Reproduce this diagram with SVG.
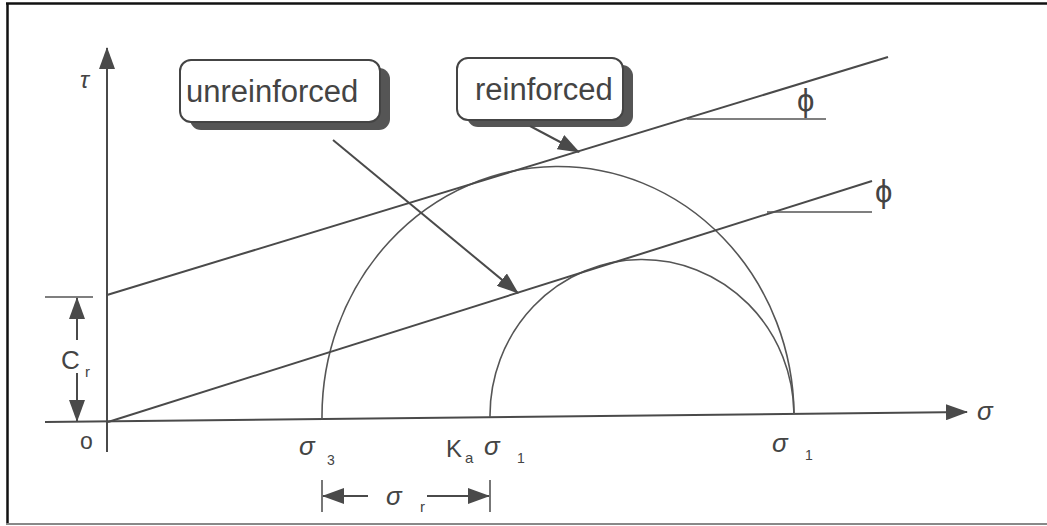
<svg xmlns="http://www.w3.org/2000/svg" width="1047" height="526" viewBox="0 0 1047 526">
<defs>
<marker id="ah" markerUnits="userSpaceOnUse" markerWidth="22" markerHeight="16" refX="21" refY="8" orient="auto">
<path d="M0,0 L22,8 L0,16 z" fill="#4a4a4a"/>
</marker>
<style>
.ln{stroke:#4a4a4a;stroke-width:2;fill:none}
.th{stroke:#555;stroke-width:1.6;fill:none}
.t{font-family:"Liberation Sans",Arial,sans-serif;fill:#444}
.box{fill:#fff;stroke:#444;stroke-width:2}
.sh{fill:#555}
</style>
</defs>
<rect x="0" y="0" width="1047" height="526" fill="#fff"/>
<g id="frame">
<line x1="6" y1="3.5" x2="1047" y2="3.5" stroke="#111" stroke-width="2.5"/>
<line x1="7.5" y1="3" x2="7.5" y2="524" stroke="#111" stroke-width="2.5"/>
<line x1="6" y1="524" x2="1047" y2="524" stroke="#888" stroke-width="2"/>
</g>
<g id="axes">
<line class="ln" x1="107" y1="452" x2="107" y2="48" marker-end="url(#ah)"/>
<line class="ln" x1="45" y1="422" x2="967" y2="412" marker-end="url(#ah)"/>
<text class="t" x="80" y="88" font-size="24" font-style="italic">τ</text>
<text class="t" x="977" y="420" font-size="26" font-style="italic">σ</text>
<text class="t" x="80" y="449" font-size="23">o</text>
</g>
<g id="circles">
<path class="th" d="M322,419 A236,250 0 0 1 794,414"/>
<path class="th" d="M490,417 A152,156 0 0 1 794,414"/>
</g>
<g id="envelopes">
<line class="ln" x1="107" y1="295" x2="888" y2="57"/>
<line class="ln" x1="108" y1="422" x2="872" y2="181"/>
<line class="th" x1="687" y1="119" x2="826" y2="119"/>
<line class="th" x1="767" y1="212" x2="872" y2="212"/>
<text class="t" x="797" y="111" font-size="31">ϕ</text>
<text class="t" x="875" y="202" font-size="31">ϕ</text>
</g>
<g id="cr">
<line class="th" x1="45" y1="297" x2="93" y2="297"/>
<line class="ln" x1="77" y1="340" x2="77" y2="298" marker-end="url(#ah)"/>
<line class="ln" x1="77" y1="373" x2="77" y2="421" marker-end="url(#ah)"/>
<text class="t" x="61" y="369" font-size="26">C</text>
<text class="t" x="85" y="377" font-size="15">r</text>
</g>
<g id="labels">
<text class="t" x="299" y="455" font-size="26" font-style="italic">σ</text>
<text class="t" x="327" y="465" font-size="14">3</text>
<text class="t" x="446" y="457" font-size="24">K</text>
<text class="t" x="465" y="463" font-size="15">a</text>
<text class="t" x="484" y="455" font-size="26" font-style="italic">σ</text>
<text class="t" x="517" y="463" font-size="14">1</text>
<text class="t" x="772" y="452" font-size="26" font-style="italic">σ</text>
<text class="t" x="805" y="460" font-size="14">1</text>
</g>
<g id="sigma-r">
<line class="th" x1="322" y1="480" x2="322" y2="512"/>
<line class="th" x1="490" y1="480" x2="490" y2="512"/>
<line class="ln" x1="368" y1="496" x2="323" y2="496" marker-end="url(#ah)"/>
<line class="ln" x1="427" y1="496" x2="489" y2="496" marker-end="url(#ah)"/>
<text class="t" x="386" y="505" font-size="26" font-style="italic">σ</text>
<text class="t" x="420" y="512" font-size="15">r</text>
</g>
<g id="unreinforced">
<rect class="sh" x="190" y="68" width="200" height="62" rx="11"/>
<rect class="box" x="180" y="60" width="200" height="62" rx="11"/>
<text class="t" x="186" y="102" font-size="31">unreinforced</text>
</g>
<g id="reinforced">
<rect class="sh" x="467" y="65" width="166" height="62" rx="11"/>
<rect class="box" x="457" y="58" width="166" height="62" rx="11"/>
<text class="t" x="475" y="100" font-size="31">reinforced</text>
</g>
<g id="connectors">
<line class="ln" x1="333" y1="140" x2="518" y2="293" marker-end="url(#ah)"/>
<line class="ln" x1="530" y1="126" x2="579" y2="152" marker-end="url(#ah)"/>
</g>
</svg>
